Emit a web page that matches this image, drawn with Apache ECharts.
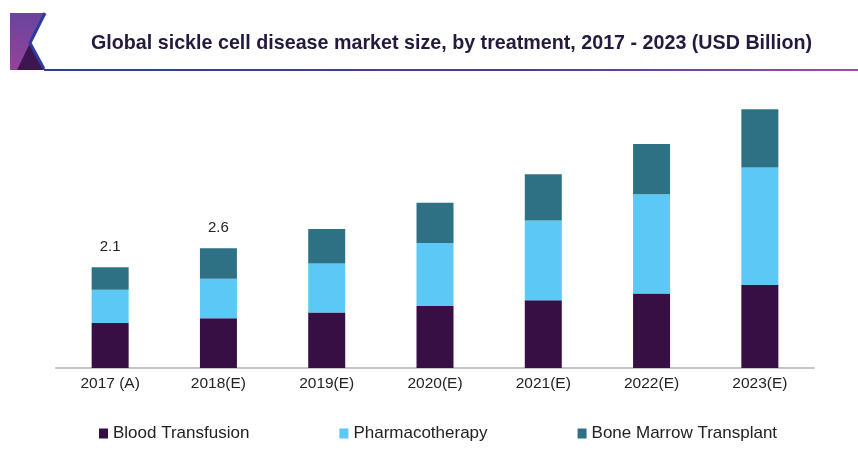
<!DOCTYPE html>
<html lang="en">
<head>
    <meta charset="UTF-8">
    <title>Sickle cell disease market</title>
    <style>
        html, body { margin: 0; padding: 0; background: #fff; }
        #main { width: 858px; height: 457px; }
    </style>
    <script src="https://cdn.jsdelivr.net/npm/echarts@6/dist/echarts.min.js"></script>
</head>
<body>
    <div id="main"></div>
    <script>
        // values (USD Billion)
        let years = ['2017 (A)', '2018(E)', '2019(E)', '2020(E)', '2021(E)', '2022(E)', '2023(E)'];
        let bloodTransfusion = [0.94, 1.04, 1.16, 1.30, 1.42, 1.56, 1.74];
        let pharmacotherapy = [0.70, 0.83, 1.03, 1.32, 1.67, 2.08, 2.46];
        let boneMarrow = [0.47, 0.64, 0.72, 0.84, 0.97, 1.05, 1.22];
        let totalLabels = ['2.1', '2.6', '', '', '', '', ''];

        let chartDom = document.getElementById('main');
        let myChart = echarts.init(chartDom);
        let font = 'Liberation Sans, Arial, sans-serif';

        let option = {
            animation: false,
            title: {
                text: 'Global sickle cell disease market size, by treatment, 2017 - 2023 (USD Billion)',
                left: 86,
                top: 29,
                textStyle: { fontFamily: font, fontSize: 19.7, fontWeight: 'bold', color: '#25193d' }
            },
            graphic: [
                // logo block
                { type: 'polygon', shape: { points: [[10, 13], [44, 13], [30, 43], [44, 70], [10, 70]] },
                  style: { fill: new echarts.graphic.LinearGradient(0, 0, 0, 1, [
                      { offset: 0, color: '#6a44a0' }, { offset: 1, color: '#944399' }]) } },
                { type: 'polygon', shape: { points: [[30, 43], [44, 70], [17, 70]] },
                  style: { fill: '#3d1650' } },
                { type: 'polyline', shape: { points: [[45, 13], [30, 43], [44, 69]] },
                  style: { stroke: '#2b3d9c', lineWidth: 3, fill: null } },
                // header rule
                { type: 'rect', shape: { x: 44, y: 69, width: 814, height: 2 },
                  style: { fill: new echarts.graphic.LinearGradient(0, 0, 1, 0, [
                      { offset: 0, color: '#2b3d9c' }, { offset: 0.6, color: '#4b3d9e' }, { offset: 1, color: '#9a4fa2' }]) } }
            ],
            legend: {
                left: 94,
                top: 420,
                itemWidth: 9,
                itemHeight: 10,
                itemGap: 90,
                icon: 'rect',
                textStyle: { fontFamily: font, fontSize: 17, color: '#222' },
                data: ['Blood Transfusion', 'Pharmacotherapy', 'Bone Marrow Transplant']
            },
            grid: { left: 56, right: 44, top: 81.5, bottom: 89 },
            xAxis: {
                type: 'category',
                data: years,
                axisLine: { lineStyle: { color: '#c4c4c4', width: 2 } },
                axisTick: { show: false },
                axisLabel: { fontFamily: font, fontSize: 15.5, color: '#222', margin: 8 }
            },
            yAxis: {
                type: 'value',
                min: 0,
                max: 6,
                show: false,
                splitLine: { show: false }
            },
            series: [
                { name: 'Blood Transfusion', type: 'bar', stack: 'total', barWidth: 37,
                  itemStyle: { color: '#380f45' }, data: bloodTransfusion },
                { name: 'Pharmacotherapy', type: 'bar', stack: 'total',
                  itemStyle: { color: '#5bc8f5' }, data: pharmacotherapy },
                { name: 'Bone Marrow Transplant', type: 'bar', stack: 'total',
                  itemStyle: { color: '#2e7184' }, data: boneMarrow,
                  label: {
                      show: true,
                      position: 'top',
                      distance: 13,
                      fontFamily: font,
                      fontSize: 15,
                      color: '#222',
                      formatter: function (p) { return totalLabels[p.dataIndex]; }
                  } }
            ]
        };

        option && myChart.setOption(option);
    </script>
</body>
</html>
